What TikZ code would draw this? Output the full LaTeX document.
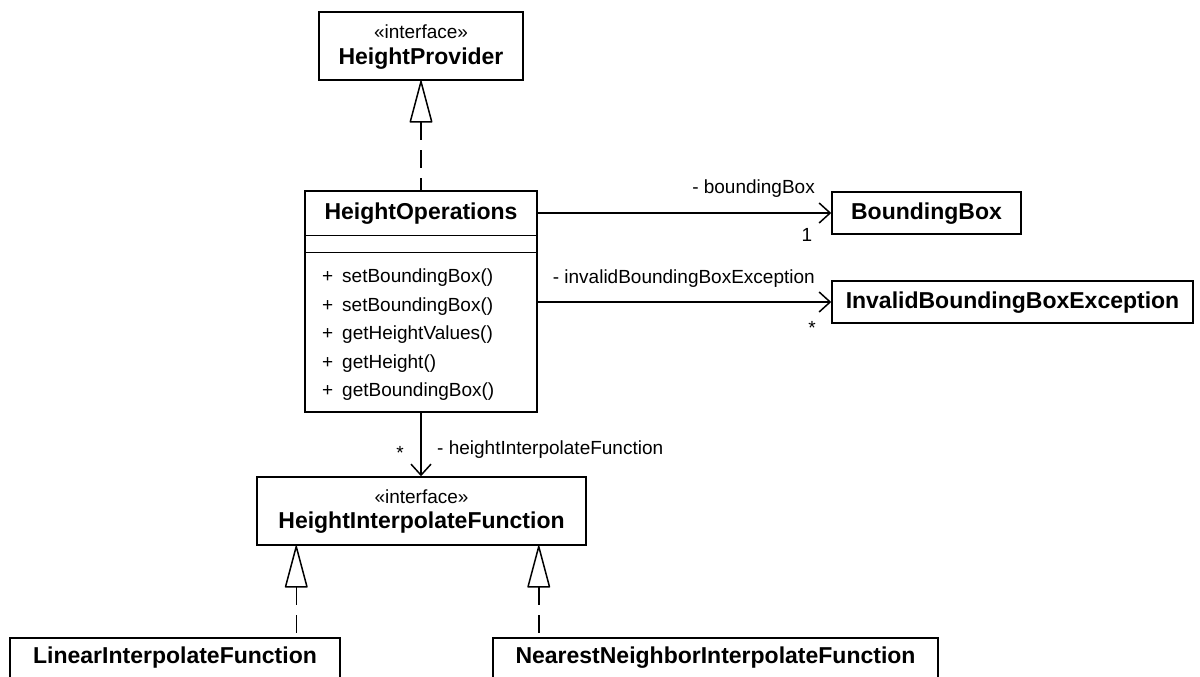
\documentclass[tikz,border=0pt]{standalone}
\usepackage{fontspec}
\setmainfont{Liberation Sans}
\usetikzlibrary{arrows.meta}
\begin{document}
\begin{tikzpicture}[x=1pt,y=-1pt,
  box/.style={draw, line width=1.5pt, fill=white, inner sep=0pt, rectangle},
  clsname/.style={font=\fontsize{23}{27}\selectfont\bfseries, anchor=mid, inner sep=0pt},
  stereo/.style={font=\fontsize{19}{23}\selectfont, anchor=mid, inner sep=0pt},
  txt/.style={font=\fontsize{19}{23}\selectfont, inner sep=0pt},
  realize/.style={line width=1.5pt, dash pattern=on 18pt off 10pt,
    {Triangle[open, round, length=44pt, width=23pt, line width=1.5pt]}-},
  assoc/.style={line width=1.5pt, -{Straight Barb[length=11pt, width=20pt, line width=1.5pt]}}]
\useasboundingbox (0,0) rectangle (1200,677);
\begin{scope}
\clip (0,0) rectangle (1200,677);

% interface HeightProvider
\node[box, minimum width=204, minimum height=68] (hp) at (421,46) {};
\node[stereo] (hpst) at (421,36) {«interface»};
\node[clsname] (hpnm) at (421,62) {HeightProvider};

% class HeightOperations with its three compartments
\node[box, minimum width=232, minimum height=221] (ho) at (421,301.5) {};
\node[clsname] (honm) at (421,217) {HeightOperations};
\draw[line width=1.5pt] ([yshift=-45pt]ho.north west) -- ([yshift=-45pt]ho.north east);
\draw[line width=1.5pt] ([yshift=-62pt]ho.north west) -- ([yshift=-62pt]ho.north east);
\foreach \m/\yy [count=\i] in {setBoundingBox()/280, setBoundingBox()/309,
    getHeightValues()/337, getHeight()/366, getBoundingBox()/394} {
  \node[txt, anchor=mid west] (vis\i) at (322,\yy) {+};
  \node[txt, anchor=mid west] (op\i) at (342,\yy) {\m};
}

% BoundingBox and InvalidBoundingBoxException
\node[box, minimum width=189, minimum height=42] (bb) at (926.5,213) {};
\node[clsname] (bbnm) at (926.5,217) {BoundingBox};
\node[box, minimum width=361, minimum height=42] (ibbe) at (1012.5,302) {};
\node[clsname] (ibbenm) at (1012.5,306) {InvalidBoundingBoxException};

% interface HeightInterpolateFunction
\node[box, minimum width=329, minimum height=68] (hif) at (421.5,511) {};
\node[stereo] (hifst) at (421.5,501) {«interface»};
\node[clsname] (hifnm) at (421.5,526) {HeightInterpolateFunction};

% implementations
\node[box, minimum width=330, minimum height=42] (lif) at (175,659) {};
\node[clsname] (lifnm) at (175,661) {LinearInterpolateFunction};
\node[box, minimum width=445, minimum height=42] (nnif) at (715.5,659) {};
\node[clsname] (nnifnm) at (715.5,661) {NearestNeighborInterpolateFunction};

% realizations
\draw[realize] (hp.south) -- (ho.north);
\draw[realize] ([xshift=40pt]hif.south west) -- ([xshift=40pt]hif.south west |- lif.north);
\draw[realize] ([xshift=-48pt]hif.south east) -- ([xshift=-48pt]hif.south east |- nnif.north);

% associations
\draw[assoc] (ho.north east |- bb.west) -- (bb.west);
\node[txt, anchor=mid east] (bbrole) at (815,191) {- boundingBox};
\node[txt, anchor=mid] (bbmult) at (807,239) {1};

\draw[assoc] (ho.north east |- ibbe.west) -- (ibbe.west);
\node[txt, anchor=mid east] (ibberole) at (815,281) {- invalidBoundingBoxException};
\node[txt, anchor=base] (ibbemult) at (812,334) {*};

\draw[assoc] (ho.south) -- (ho.south |- hif.north);
\node[txt, anchor=base] (hifmult) at (400,459) {*};
\node[txt, anchor=mid west] (hifrole) at (437,452) {- heightInterpolateFunction};
\end{scope}
\end{tikzpicture}
\end{document}
